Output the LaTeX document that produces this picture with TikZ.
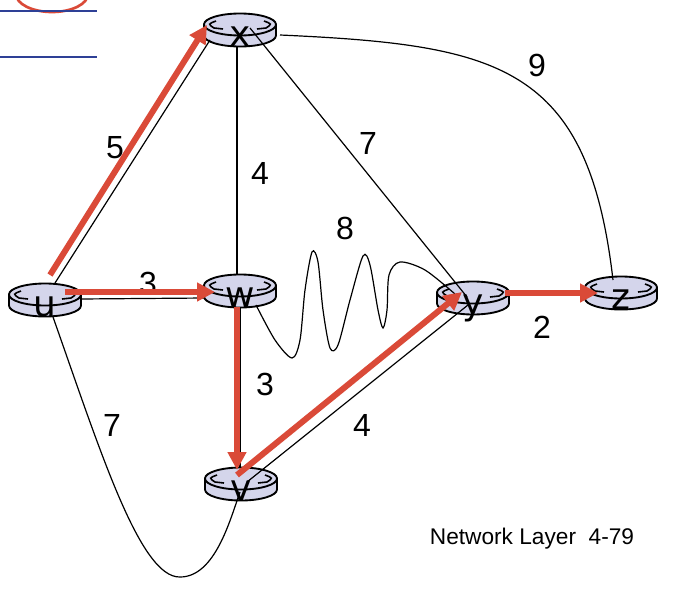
\documentclass[tikz,border=0pt]{standalone}
\usepackage{fontspec}
\setmainfont{Liberation Sans}
\newfontfamily\routerfont{DejaVu Sans}
\usetikzlibrary{arrows.meta}
\definecolor{routerfill}{RGB}{212,213,235}
\definecolor{pathred}{RGB}{218,74,56}
\definecolor{slideblue}{RGB}{46,64,150}

\begin{document}
\begin{tikzpicture}[x=0.75pt,y=-0.75pt,
  router/.style={minimum width=54pt, minimum height=24.75pt, inner sep=0pt},
  routerbody/.style={fill=routerfill, draw=black, line width=1.4pt},
  rname/.style={font=\routerfont\fontsize{27}{27}\selectfont, inner sep=0pt, anchor=base},
  link/.style={line width=0.9pt},
  cost/.style={font=\fontsize{24}{24}\selectfont, inner sep=0pt},
  tree/.style={pathred, line width=4.5pt, -{Triangle[length=13.5pt,width=13.5pt]}}]
  \useasboundingbox (0,0) rectangle (684,592);

  \draw[pathred, line width=2pt] (52,-6) ellipse [x radius=36, y radius=18];
  \draw[slideblue, line width=2pt] (0,11) -- (97,11);
  \draw[slideblue, line width=2pt] (0,57) -- (97,57);

  \node[router] (x) at (240,30) {};
  \node[router] (u) at (45,300) {};
  \node[router] (w) at (240,291) {};
  \node[router] (y) at (473,298) {};
  \node[router] (z) at (621,293) {};
  \node[router] (v) at (241,484) {};

  \foreach \r in {x,u,w,y,z,v} {
    \filldraw[routerbody] ([shift={(-36,-5.5)}]\r.center) -- ++(0,11)
      arc[start angle=180, end angle=0, x radius=36, y radius=11] -- ++(0,-11) -- cycle;
    \filldraw[routerbody] ([shift={(0,-5.5)}]\r.center) ellipse [x radius=36, y radius=11];
    \draw[line width=1.2pt] ([shift={(-24,-9)}]\r.center) .. controls ([shift={(-32,-6)}]\r.center) .. ([shift={(-26,-2)}]\r.center) -- ++(9,1);
    \draw[line width=1.2pt] ([shift={(24,-9)}]\r.center) .. controls ([shift={(32,-6)}]\r.center) .. ([shift={(26,-2)}]\r.center) -- ++(-9,1);
  }

  \node[rname] (xl) at ([yshift=0.5pt]x.south) {x};
  \node[rname] (ul) at ([yshift=0.5pt]u.south) {u};
  \node[rname] (wl) at ([yshift=0.5pt]w.south) {w};
  \node[rname] (yl) at ([yshift=0.5pt]y.south) {y};
  \node[rname] (zl) at ([yshift=0.5pt]z.south) {z};
  \node[rname] (vl) at ([yshift=0.5pt]v.south) {v};

  \draw[link] ([shift={(10,-17)}]u.center) -- ([shift={(-30,10)}]x.center);
  \draw[link] ([shift={(35,-1)}]u.center) -- ([shift={(-35,7)}]w.center);
  \draw[link] ([shift={(-3,17)}]x.center) -- ([shift={(-3,-16)}]w.center);
  \draw[link] ([shift={(10,-2)}]x.center) -- ([shift={(-6,-1)}]y.center);
  \draw[link] ([shift={(40,5)}]x.center) .. controls (500,45) and (588,65) .. ([shift={(-8,-13)}]z.center);
  \draw[link] plot[smooth] coordinates {([shift={(16,14)}]w.center) (275,340) (292,358) (300,340) (305,290)
    (312,252) (318,262) (323,310) (330,348) (338,345) (350,300) (363,256) (370,265) (378,310)
    (383,328) (387,310) (389,275) (400,262) (425,270) ([shift={(-18,-4)}]y.center)};
  \draw[link] ([shift={(0,16)}]w.center) -- ([shift={(-1,-16)}]v.center);
  \draw[link] ([shift={(6,-2)}]v.center) -- ([shift={(-5,7)}]y.center);
  \draw[link] ([shift={(36,-3)}]y.center) -- ([shift={(-36,-2)}]z.center);
  \draw[link] ([shift={(8,17)}]u.center) .. controls (100,450) and (140,578) .. (180,577)
    .. controls (215,577) and (230,520) .. ([shift={(-1,8)}]v.center);

  \node[cost] (c5) at (115,148) {5};
  \node[cost] (c4a) at (260,173) {4};
  \node[cost] (c7a) at (368,143) {7};
  \node[cost] (c9) at (537,65) {9};
  \node[cost] (c8) at (345,228) {8};
  \node[cost] (c3a) at (148,283) {3};
  \node[cost] (c2) at (542,327) {2};
  \node[cost] (c3b) at (265,384) {3};
  \node[cost] (c4b) at (362,425) {4};
  \node[cost] (c7b) at (112,425) {7};

  \draw[tree] ([shift={(5,-25)}]u.center) -- ([shift={(-33,-5)}]x.center);
  \draw[tree] ([shift={(20,-8)}]u.center) -- ([shift={(-25,1)}]w.center);
  \draw[tree] ([shift={(-3,16)}]w.center) -- ([shift={(-4,-14)}]v.center);
  \draw[tree] ([shift={(-4,-9)}]v.center) -- ([shift={(-11,-6)}]y.center);
  \draw[tree] ([shift={(32,-5)}]y.center) -- ([shift={(-23,0)}]z.center);

  \node[font=\fontsize{17}{17}\selectfont] (footer) at (532,539) {Network Layer~ 4-79};
\end{tikzpicture}
\end{document}
